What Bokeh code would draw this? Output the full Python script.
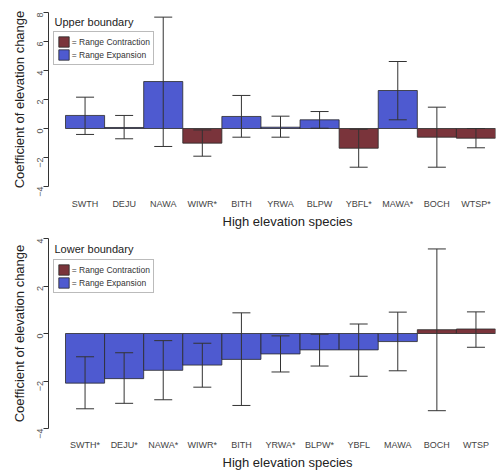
import math
from bokeh.plotting import figure
from bokeh.models import (ColumnDataSource, Range1d, FixedTicker, Whisker, TeeHead,
                          Legend, LegendItem, Label, Title)
from bokeh.layouts import column
from bokeh.embed import file_html
from bokeh.resources import INLINE

species_pos = [1, 2, 3, 4, 5, 6, 7, 8, 9, 10, 11]

upper_labels = ["SWTH", "DEJU", "NAWA", "WIWR*", "BITH", "YRWA", "BLPW", "YBFL*", "MAWA*", "BOCH", "WTSP*"]
upper_coef = [0.90, 0.07, 3.24, -1.01, 0.83, 0.09, 0.60, -1.36, 2.62, -0.60, -0.67]
upper_hi = [2.16, 0.90, 7.68, -0.10, 2.28, 0.85, 1.17, -0.05, 4.62, 1.47, 0.00]
upper_lo = [-0.41, -0.71, -1.24, -1.91, -0.60, -0.60, 0.02, -2.67, 0.60, -2.67, -1.33]

lower_labels = ["SWTH*", "DEJU*", "NAWA*", "WIWR*", "BITH", "YRWA*", "BLPW*", "YBFL", "MAWA", "BOCH", "WTSP"]
lower_coef = [-2.09, -1.90, -1.55, -1.33, -1.09, -0.86, -0.69, -0.69, -0.34, 0.16, 0.19]
lower_hi = [-0.98, -0.81, -0.30, -0.41, 0.87, -0.10, -0.03, 0.40, 0.90, 3.56, 0.91]
lower_lo = [-3.17, -2.94, -2.79, -2.26, -3.03, -1.62, -1.37, -1.80, -1.57, -3.25, -0.58]

upper_ticks = [-4, -2, 0, 2, 4, 6, 8]
lower_ticks = [-4, -2, 0, 2, 4]

CONTRACTION = "#7A343B"
EXPANSION = "#4E5AD0"
FONT = "Liberation Sans"


def panel(labels, coef, hi, lo, ticks, title, expansion_positive,
          height, top, bottom, legend_top, title_below, lab_standoff, xtitle_standoff):
    colors = []
    for c in coef:
        expanding = (c > 0) if expansion_positive else (c < 0)
        colors.append(EXPANSION if expanding else CONTRACTION)
    src = ColumnDataSource(dict(x=species_pos, top=coef, hi=hi, lo=lo, color=colors))

    frame_h = height - top - bottom
    p = figure(width=500, height=height,
               x_range=Range1d(0.065, 11.5), y_range=Range1d(min(ticks), max(ticks)),
               output_backend="svg", toolbar_location=None,
               min_border_left=48, min_border_right=5,
               min_border_top=top, min_border_bottom=bottom)
    p.outline_line_color = None
    p.xgrid.visible = False
    p.ygrid.visible = False
    p.background_fill_color = "white"

    r = p.vbar(x="x", top="top", bottom=0, width=1.0, source=src,
               fill_color="color", line_color="#2a2a2a", line_width=0.8)

    w = Whisker(source=src, base="x", upper="hi", lower="lo", dimension="height",
                line_color="#333333", line_width=1,
                upper_head=TeeHead(size=18, line_color="#333333", line_width=1),
                lower_head=TeeHead(size=18, line_color="#333333", line_width=1))
    w.level = "overlay"
    p.add_layout(w)

    # y axis
    ya = p.yaxis[0]
    ya.ticker = FixedTicker(ticks=ticks)
    ya.minor_tick_line_color = None
    ya.major_tick_out = 5
    ya.major_tick_in = 0
    ya.major_label_orientation = math.pi / 2
    ya.major_label_text_font = FONT
    ya.major_label_text_font_size = "9px"
    ya.major_label_text_color = "#555555"
    ya.major_label_standoff = 4
    ya.axis_line_color = "#333333"
    ya.major_tick_line_color = "#333333"

    # x axis
    xa = p.xaxis[0]
    xa.ticker = FixedTicker(ticks=species_pos)
    xa.major_label_overrides = {pos: lab for pos, lab in zip(species_pos, labels)}
    xa.axis_line_color = None
    xa.major_tick_line_color = None
    xa.minor_tick_line_color = None
    xa.major_tick_out = 0
    xa.major_tick_in = 0
    xa.major_label_text_font = FONT
    xa.major_label_text_font_size = "9px"
    xa.major_label_text_color = "#444444"
    xa.major_label_standoff = lab_standoff

    # axis titles as side-panel titles
    p.add_layout(Title(text="Coefficient of elevation change", align="center",
                       text_font=FONT, text_font_size="13px", text_font_style="normal",
                       text_color="#222222", standoff=7, offset=0), "left")
    p.add_layout(Title(text="High elevation species", align="left", offset=174,
                       text_font=FONT, text_font_size="13px", text_font_style="normal",
                       text_color="#222222", standoff=xtitle_standoff), "below")

    i_con = colors.index(CONTRACTION)
    i_exp = colors.index(EXPANSION)
    legend_h = 3 * 2 + 13 * 2
    legend = Legend(items=[LegendItem(label="= Range Contraction", renderers=[r], index=i_con),
                           LegendItem(label="= Range Expansion", renderers=[r], index=i_exp)],
                    location=(4.7, frame_h - legend_top - legend_h), margin=0, padding=3, spacing=0,
                    glyph_width=13, glyph_height=13, label_height=13, label_standoff=2,
                    label_text_font=FONT, label_text_font_size="8.5px",
                    label_text_color="#333333",
                    border_line_color="#777777", border_line_width=1,
                    background_fill_color="white", background_fill_alpha=1.0)
    p.add_layout(legend)

    p.add_layout(Label(x=6, y=frame_h - title_below, x_units="screen", y_units="screen",
                       text=title, text_font=FONT,
                       text_font_size="11px", text_color="#222222",
                       text_baseline="middle", text_align="left"))
    return p


p1 = panel(upper_labels, upper_coef, upper_hi, upper_lo, upper_ticks, "Upper boundary", True,
           height=232, top=12, bottom=46, legend_top=21.3, title_below=9.3,
           lab_standoff=12, xtitle_standoff=1)
p2 = panel(lower_labels, lower_coef, lower_hi, lower_lo, lower_ticks, "Lower boundary", False,
           height=239, top=6, bottom=43, legend_top=23, title_below=10.3,
           lab_standoff=11, xtitle_standoff=1)

layout = column(p1, p2)
open("out.html", "w").write(file_html(layout, INLINE))
